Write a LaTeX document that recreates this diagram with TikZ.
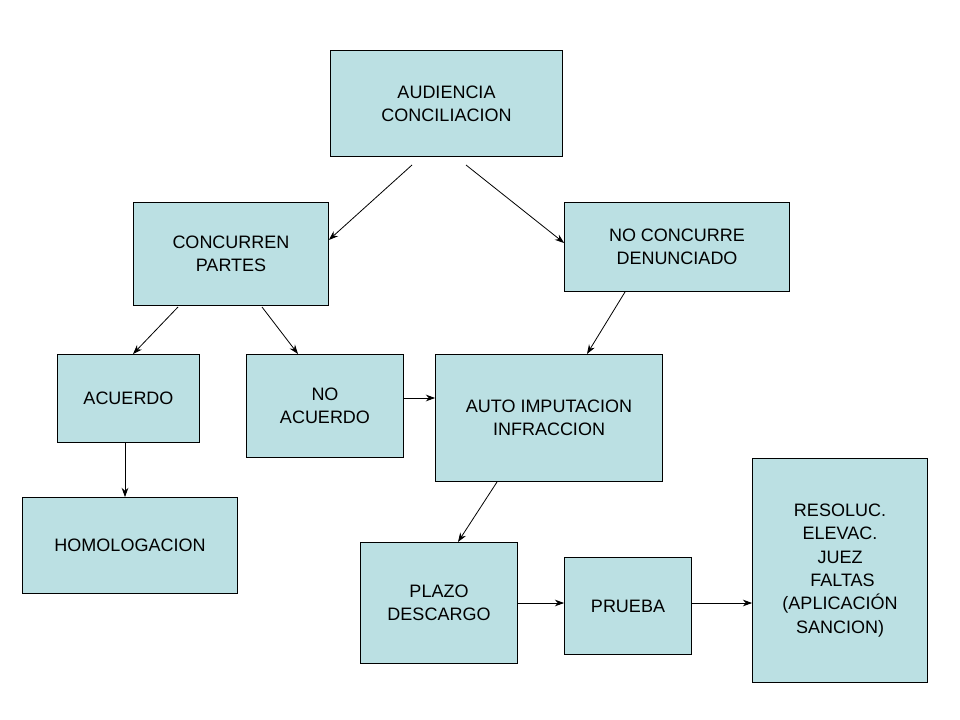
\documentclass[tikz,border=0pt]{standalone}
\usepackage{fontspec}
\setmainfont{Liberation Sans}
\usetikzlibrary{arrows.meta}
\begin{document}
\begin{tikzpicture}[x=0.75pt,y=-0.75pt,
  box/.style={draw=black,fill=boxc,align=center,font=\fontsize{13.5}{17.5}\selectfont,inner sep=0pt},
  conn/.style={-{Stealth[length=7pt,width=5pt]},line width=0.6pt}]
\definecolor{boxc}{HTML}{BBE0E3}
\useasboundingbox (0,0) rectangle (960,720);
\newcommand{\bx}[6]{\node[box,minimum width=#4*0.75pt-0.6pt,minimum height=#5*0.75pt-0.6pt] (#1) at ({(#2+#2+#4)/2},{(#3+#3+#5)/2}) {#6};}
\bx{aud}{330}{50}{233}{107}{AUDIENCIA\\CONCILIACION}
\bx{conc}{133}{202}{196}{104}{CONCURREN\\PARTES}
\bx{noconc}{564}{202}{226}{90}{NO CONCURRE\\DENUNCIADO}
\bx{acu}{57}{354}{143}{89}{ACUERDO}
\bx{noacu}{246}{354}{158}{104}{NO\\ACUERDO}
\bx{auto}{435}{354}{228}{128}{AUTO IMPUTACION\\INFRACCION}
\bx{homo}{22}{497}{216}{97}{HOMOLOGACION}
\bx{plazo}{360}{542}{158}{122}{PLAZO\\DESCARGO}
\bx{prueba}{564}{557}{128}{98}{PRUEBA}
\bx{res}{752}{458}{176}{225}{RESOLUC.\\ELEVAC.\\JUEZ\\\ FALTAS\\(APLICACIÓN\\SANCION)}
\coordinate (a1) at (412,165); \coordinate (a2) at (466,165);
\coordinate (c1) at (178,307); \coordinate (c2) at (262,307);
\coordinate (n1) at (625,292); \coordinate (u1) at (497,482);
\draw[conn] (a1) -- (conc.east |- 0,240);
\draw[conn] (a2) -- (noconc.west |- 0,243);
\draw[conn] (c1) -- (133,354);
\draw[conn] (c2) -- (298,354);
\draw[conn] (n1) -- (587,354);
\draw[conn] (noacu.east |- 0,398) -- (auto.west |- 0,398);
\draw[conn] (acu.south -| 125,0) -- (homo.north -| 125,0);
\draw[conn] (u1) -- (458,542);
\draw[conn] (plazo.east |- 0,603) -- (prueba.west |- 0,603);
\draw[conn] (prueba.east |- 0,603) -- (res.west |- 0,603);
\end{tikzpicture}
\end{document}
